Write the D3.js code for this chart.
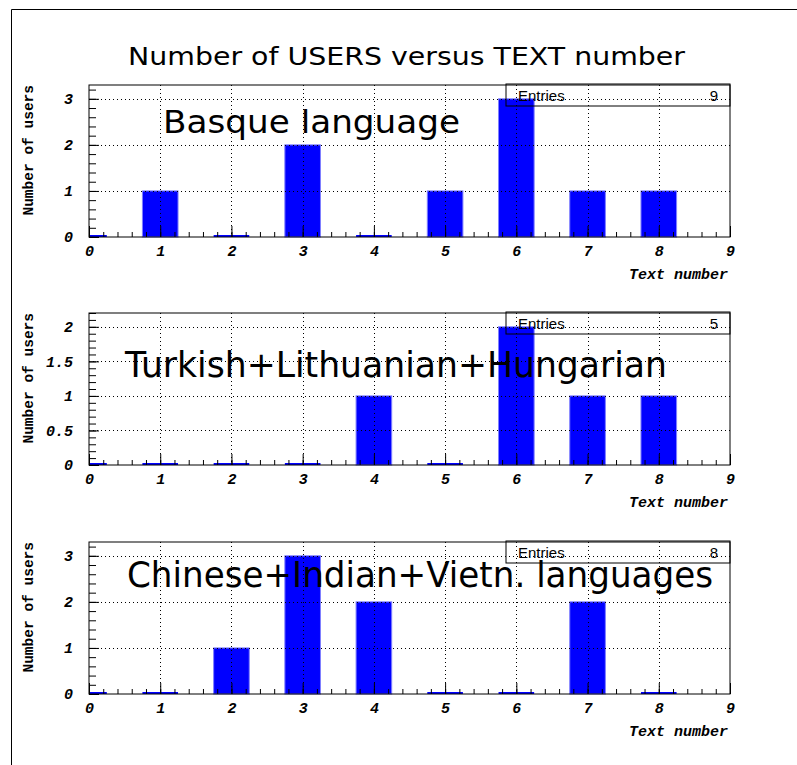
<!DOCTYPE html>
<html>
<head>
<meta charset="utf-8">
<script src="https://cdn.jsdelivr.net/npm/d3@7"></script>
<style>
  body { margin: 0; background: #fff; }
  .tick line { stroke: #000; }
  .tick text { font-family: "Liberation Mono", monospace; font-weight: bold; font-style: italic; font-size: 15px; fill: #000; }
</style>
</head>
<body>
<script>
// Text numbers (bins) and users per text, one array per language group
const textNumbers = [0, 1, 2, 3, 4, 5, 6, 7, 8];
const basqueUsers = [0, 1, 0, 2, 0, 1, 3, 1, 1];
const turkLithHungUsers = [0, 0, 0, 0, 1, 0, 2, 1, 1];
const chinIndVietnUsers = [0, 0, 1, 3, 2, 0, 0, 2, 0];
const panelLabels = ["Basque language", "Turkish+Lithuanian+Hungarian", "Chinese+Indian+Vietn. languages"];
const xTickLabels = [0, 1, 2, 3, 4, 5, 6, 7, 8, 9];
const yTickLabels = [[0, 1, 2, 3], [0, 0.5, 1, 1.5, 2], [0, 1, 2, 3]];

const series = [basqueUsers, turkLithHungUsers, chinIndVietnUsers];

const svg = d3.select("body").append("svg")
	.attr("width", 797)
	.attr("height", 765);

// outer canvas border
svg.append("path")
	.attr("d", "M11.5,765V9.5H797")
	.attr("fill", "none")
	.attr("stroke", "#000");

svg.append("text")
	.attr("x", 128)
	.attr("y", 65)
	.attr("textLength", 557)
	.attr("lengthAdjust", "spacingAndGlyphs")
	.style("font-family", "DejaVu Sans, sans-serif")
	.style("font-size", "25px")
	.text("Number of USERS versus TEXT number");

const xLeft = 89, xRight = 730, panelH = 152;
const panelTops = [85, 313, 542];
const labelSize = [32, 35, 35];
const labelBox = [[163, 133, 297], [125, 377, 542], [127, 587, 586]];
const yMinorStep = [0.2, 0.1, 0.2];

const x = d3.scaleLinear().domain([0, 9]).range([xLeft, xRight]);

series.forEach((values, p) => {
	const top = panelTops[p], bottom = top + panelH;
	const yMax = d3.max(values) * 1.1;
	const y = d3.scaleLinear().domain([0, yMax]).range([bottom, top]);
	const g = svg.append("g");

	// bars (bar width 0.5, empty bins as a thin line)
	g.selectAll("rect.bar")
		.data(textNumbers.map((t, i) => ({ t, v: values[i] })))
		.enter().append("rect")
		.attr("class", "bar")
		.attr("x", d => x(Math.max(0, d.t - 0.25)))
		.attr("width", d => x(d.t + 0.25) - x(Math.max(0, d.t - 0.25)))
		.attr("y", d => d.v > 0 ? y(d.v) : bottom - 2)
		.attr("height", d => d.v > 0 ? bottom - y(d.v) : 2)
		.attr("fill", "#0000ff")
		.attr("stroke", d => d.v > 0 ? "#7f7fff" : "none")
		.attr("stroke-width", 1);

	// dotted grid
	g.selectAll("line.gx")
		.data(xTickLabels.slice(1, -1))
		.enter().append("line")
		.attr("x1", d => Math.round(x(d)) + 0.5).attr("x2", d => Math.round(x(d)) + 0.5)
		.attr("y1", top).attr("y2", bottom)
		.attr("stroke", "#000")
		.attr("stroke-dasharray", "1,3");
	g.selectAll("line.gy")
		.data(yTickLabels[p].slice(1))
		.enter().append("line")
		.attr("x1", xLeft).attr("x2", xRight)
		.attr("y1", d => Math.round(y(d)) + 0.5).attr("y2", d => Math.round(y(d)) + 0.5)
		.attr("stroke", "#000")
		.attr("stroke-dasharray", "1,3");

	// y axis ticks, pointing inside
	const yMinor = d3.range(0, Math.floor(yMax / yMinorStep[p] + 1e-6) + 1).map(k => +(k * yMinorStep[p]).toFixed(2));
	g.append("g")
		.attr("transform", `translate(${xLeft},0)`)
		.call(d3.axisLeft(y).tickValues(yMinor).tickSize(-7).tickFormat(""))
		.call(a => a.select(".domain").remove());
	g.append("g")
		.attr("transform", `translate(${xLeft},0)`)
		.call(d3.axisLeft(y).tickValues(yTickLabels[p]).tickSize(-10).tickPadding(16).tickFormat(d3.format("")))
		.call(a => a.select(".domain").remove());

	// x axis ticks
	const xMinor = d3.range(0, 46).map(k => +(k * 0.2).toFixed(1));
	g.append("g")
		.attr("transform", `translate(0,${bottom})`)
		.call(d3.axisBottom(x).tickValues(xMinor).tickSize(-5).tickFormat(""))
		.call(a => a.select(".domain").remove());
	g.append("g")
		.attr("transform", `translate(0,${bottom})`)
		.call(d3.axisBottom(x).tickValues(xTickLabels).tickSize(-11).tickPadding(8).tickFormat(d3.format("d")))
		.call(a => a.select(".domain").remove());

	// frame
	g.append("rect")
		.attr("x", xLeft).attr("y", top)
		.attr("width", xRight - xLeft).attr("height", panelH)
		.attr("fill", "none")
		.attr("stroke", "#000");

	// axis titles
	g.append("text")
		.attr("x", 728).attr("y", bottom + 42)
		.attr("text-anchor", "end")
		.style("font-family", "Liberation Mono, monospace")
		.style("font-weight", "bold")
		.style("font-style", "italic")
		.style("font-size", "15px")
		.text("Text number");
	g.append("text")
		.attr("transform", `translate(33,${top}) rotate(-90)`)
		.attr("text-anchor", "end")
		.style("font-family", "Liberation Mono, monospace")
		.style("font-weight", "bold")
		.style("font-size", "14.5px")
		.text("Number of users");

	// stats box
	g.append("rect")
		.attr("x", 506).attr("y", top - 1)
		.attr("width", xRight - 506).attr("height", 22)
		.attr("fill", "none")
		.attr("stroke", "#000");
	g.append("text")
		.attr("x", 518).attr("y", top + 16)
		.style("font-family", "Liberation Sans, sans-serif")
		.style("font-size", "15px")
		.text("Entries");
	g.append("text")
		.attr("x", 718).attr("y", top + 16)
		.attr("text-anchor", "end")
		.style("font-family", "Liberation Sans, sans-serif")
		.style("font-size", "15px")
		.text(d3.sum(values));

	// panel label
	g.append("text")
		.attr("x", labelBox[p][0]).attr("y", labelBox[p][1])
		.attr("textLength", labelBox[p][2])
		.attr("lengthAdjust", "spacingAndGlyphs")
		.style("font-family", "DejaVu Sans, sans-serif")
		.style("font-size", labelSize[p] + "px")
		.text(panelLabels[p]);
});
</script>
</body>
</html>
